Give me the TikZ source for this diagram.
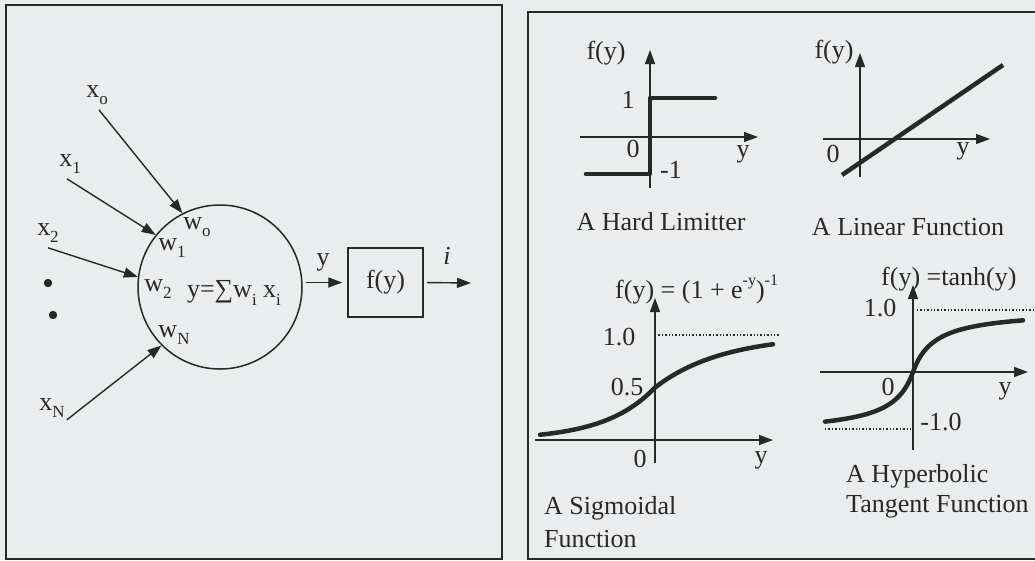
\documentclass[tikz,border=0pt]{standalone}
\usepackage{fontspec}
\setmainfont{Liberation Serif}
\usetikzlibrary{arrows.meta}
\definecolor{bg}{RGB}{234,236,237}
\definecolor{ln}{RGB}{38,42,38}
\definecolor{txt}{RGB}{40,40,40}
\newcommand\sbs[1]{\raisebox{-0.28em}{\fontsize{17}{17}\selectfont #1}}
\newcommand\sps[1]{\raisebox{0.5em}{\fontsize{16}{16}\selectfont #1}}
\tikzset{
  x=1pt, y=-1pt,
  every node/.style={font=\fontsize{26}{28}\selectfont, text=txt, inner sep=1pt},
  tipstyle/.style={-{Triangle[length=14pt,width=10pt]}},
  arr/.style={tipstyle, draw=ln, line width=1.4pt},
  axis/.style={tipstyle, draw=ln, line width=1.4pt},
  curve/.style={draw=ln, line width=4.5pt, line cap=round, line join=round},
  frame/.style={draw=ln, line width=2pt},
  dots/.style={draw=ln, line width=1.4pt, dotted},
}
\begin{document}
\begin{tikzpicture}
\useasboundingbox (0,0) rectangle (1035,560);
\clip (0,0) rectangle (1035,560);
\fill[bg] (0,0) rectangle (1035,560);

% panels
\draw[frame] (6,5) rectangle (502,559);
\draw[frame] (528,12) rectangle (1045,559);

% ---------- left panel ----------
\node[circle, draw=ln, line width=1.5pt, minimum size=164pt, inner sep=0pt] (neuron) at (220,287) {};
\node (sum) at (234,293) {y=∑w\sbs{i} x\sbs{i}};
\node (w0) at (197,227) {w\sbs{o}};
\node (w1) at (172,248) {w\sbs{1}};
\node (w2) at (158,289) {w\sbs{2}};
\node (wN) at (174,335) {w\sbs{N}};

\node[inner sep=3pt] (x0) at (97,95) {x\sbs{o}};
\node[inner sep=3pt] (x1) at (70,164) {x\sbs{1}};
\node[inner sep=3pt] (x2) at (48,233) {x\sbs{2}};
\node[inner sep=2pt] (xN) at (52,408) {x\sbs{N}};
\fill[ln] (48,283) circle (4.2pt);
\fill[ln] (53,315) circle (4.2pt);

\draw[arr] (x0.south) ++(2,2) -- (neuron.117);
\draw[arr] (x1.south) ++(-3,2) -- (neuron.141);
\draw[arr] (x2.south) ++(0,2) -- (neuron.173);
\draw[arr] (xN.south east) -- (neuron.225);

\node[draw=ln, line width=1.5pt, minimum width=75pt, minimum height=69pt] (fy) at (385.5,282.5) {f(y)};
\draw[arr, shorten <=3pt, shorten >=5pt] (neuron.east |- fy.west) -- (fy.west);
\node (ylab) at (323,262) {y};
\coordinate (out) at (471,283);
\draw[arr, shorten <=3pt] (fy.east) -- (out);
\node (ilab) at (447,256) {\textit{i}};

% ---------- hard limiter ----------
\draw[axis] (580,137) -- (758,137);
\draw[axis] (650,188) -- (650,50);
\draw[curve] (586,174) -- (650,174) -- (650,98) -- (715,98);
\node (hlf) at (606,53) {f(y)};
\node (hl1) at (628,100) {1};
\node (hl0) at (633,149) {0};
\node (hlm) at (671,170) {-1};
\node (hly) at (743,154) {y};
\node (hlcap) at (661,222) {A Hard Limitter};

% ---------- linear ----------
\draw[axis] (823,139) -- (990,139);
\draw[axis] (860,177) -- (860,53);
\draw[curve, line cap=butt] (842,175) -- (1003,65);
\node (lif) at (834,52) {f(y)};
\node (li0) at (833,154) {0};
\node (liy) at (963,151) {y};
\node (licap) at (908,227) {A Linear Function};

% ---------- sigmoid ----------
\draw[axis] (535,440) -- (773,440);
\draw[axis] (655,463) -- (655,298);
\draw[dots] (655,335) -- (780,335);
\draw[curve] plot[domain=540:655, samples=60] (\x, {440 - 52.5*exp((\x-655)/50)})
  -- plot[domain=655:773, samples=60] (\x, {440 - 105*(1-0.5*exp(-(\x-655)/68))});
\node[anchor=west] (sgf) at (614,290) {f(y) = (1 + e\sps{-y})\sps{-1}};
\node (sg1) at (619,337) {1.0};
\node (sg5) at (627,387) {0.5};
\node (sg0) at (640,459) {0};
\node (sgy) at (761,460) {y};
\node[anchor=west] (sgc1) at (543,508) {A Sigmoidal};
\node[anchor=west] (sgc2) at (543,539) {Function};

% ---------- tanh ----------
\draw[axis] (820,372) -- (1028,372);
\draw[axis] (913,450) -- (913,285);
\draw[dots] (917,310) -- (1040,310);
\draw[dots] (825,429) -- (913,429);
\draw[curve] plot[domain=825:1023, samples=100] (\x, {372 - 62*(\x-913)/(abs(\x-913)+22)});
\node[anchor=west] (thf) at (880,279) {f(y) =tanh(y)};
\node (th1) at (880,308) {1.0};
\node (th0) at (888,387) {0};
\node (thy) at (1005,391) {y};
\node (thm) at (941,422) {-1.0};
\node[anchor=west] (thc1) at (845,476) {A Hyperbolic};
\node[anchor=west] (thc2) at (845,507) {Tangent Function};
\end{tikzpicture}
\end{document}
